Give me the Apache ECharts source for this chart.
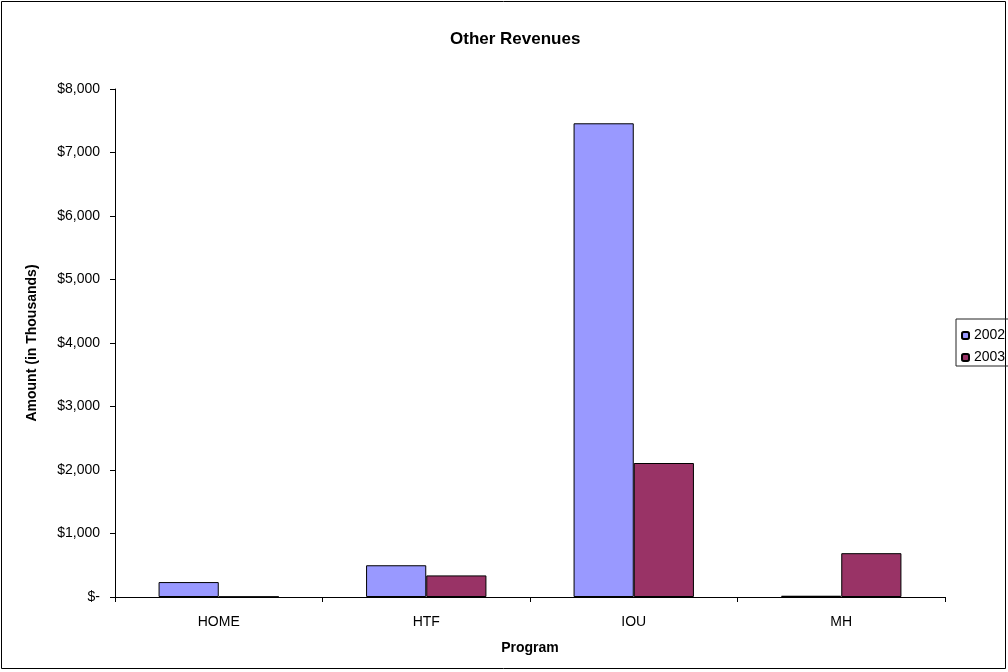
<!DOCTYPE html>
<html>
<head>
<meta charset="utf-8">
<title>Other Revenues</title>
<script src="https://cdn.jsdelivr.net/npm/echarts@6/dist/echarts.min.js"></script>
<style>
  html, body { margin: 0; padding: 0; background: #fff; }
  #chart { width: 1008px; height: 672px; }
</style>
</head>
<body>
<div id="chart"></div>
<script>
  // chart data
  var programs = ['HOME', 'HTF', 'IOU', 'MH']
  var rev2002 = [235, 500, 7460, 20]
  var rev2003 = [5, 340, 2110, 690]
  var seriesNames = ['2002', '2003']

  var chart = echarts.init(document.getElementById('chart'))

  function money(v) {
    if (v === 0) return '$-'
    return '$' + v.toLocaleString('en-US')
  }

  var option = {
    animation: false,
    textStyle: { fontFamily: 'Liberation Sans, Arial, sans-serif' },
    graphic: [{
      type: 'rect',
      shape: { x: 1.5, y: 1.5, width: 1004, height: 667 },
      style: { fill: 'none', stroke: '#000', lineWidth: 1 },
      silent: true
    }],
    title: {
      text: 'Other Revenues',
      left: 445,
      top: 26,
      textStyle: { fontSize: 17, fontWeight: 'bold', color: '#000' }
    },
    legend: {
      orient: 'vertical',
      left: 956,
      top: 319,
      padding: [9, 30, 1, 5],
      itemGap: 7,
      itemWidth: 7,
      itemHeight: 7,
      borderColor: '#222',
      borderWidth: 1,
      borderRadius: 0,
      textStyle: { fontSize: 14, color: '#000', lineHeight: 15 },
      data: seriesNames
    },
    grid: {
      left: 115,
      right: 63,
      top: 89,
      bottom: 75,
      containLabel: false
    },
    xAxis: {
      type: 'category',
      data: programs,
      name: 'Program',
      nameLocation: 'middle',
      nameGap: 44,
      nameTextStyle: { fontSize: 14, fontWeight: 'bold', color: '#000' },
      axisLine: { lineStyle: { color: '#000', width: 1 } },
      axisTick: { show: true, length: 5, alignWithLabel: false, lineStyle: { color: '#000' } },
      axisLabel: { color: '#000', fontSize: 14, margin: 18 },
      splitLine: { show: false }
    },
    yAxis: {
      type: 'value',
      min: 0,
      max: 8000,
      interval: 1000,
      name: 'Amount (in Thousands)',
      nameLocation: 'middle',
      nameGap: 76,
      nameRotate: 90,
      nameTextStyle: { fontSize: 14, fontWeight: 'bold', color: '#000' },
      axisLine: { show: true, lineStyle: { color: '#000', width: 1 } },
      axisTick: { show: true, inside: false, length: 5, lineStyle: { color: '#000' } },
      axisLabel: { color: '#000', fontSize: 14, margin: 15, formatter: money },
      splitLine: { show: false }
    },
    series: [{
      name: seriesNames[0],
      type: 'bar',
      data: rev2002,
      barGap: '0%',
      barCategoryGap: '42%',
      itemStyle: { color: '#9999FF', borderColor: '#000', borderWidth: 1 }
    }, {
      name: seriesNames[1],
      type: 'bar',
      data: rev2003,
      barGap: '0%',
      barCategoryGap: '42%',
      itemStyle: { color: '#993366', borderColor: '#000', borderWidth: 1 }
    }]
  }

  chart.setOption(option)
</script>
</body>
</html>
